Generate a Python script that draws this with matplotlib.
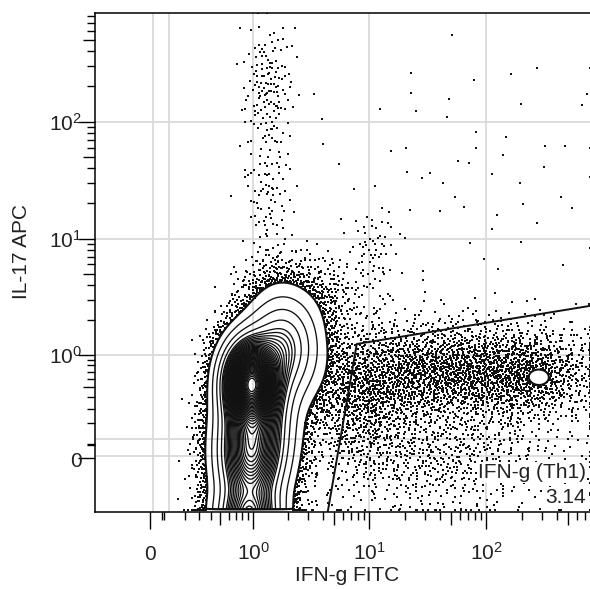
import numpy as np
import matplotlib
matplotlib.use('Agg')
import matplotlib.pyplot as plt
from matplotlib.transforms import offset_copy

plt.rcParams['font.family'] = ['Liberation Sans', 'DejaVu Sans']
plt.rcParams['mathtext.default'] = 'regular'

# biex 类坐标轴 (asinh), 1 个单位 = 1 个十进位
A = 0.267
LN10 = np.log(10)

def fwd(v):
    return np.arcsinh(np.asarray(v, float) / A) / LN10

def inv(t):
    return A * np.sinh(np.asarray(t, float) * LN10)

x_min, x_max = -0.35, 770
y_min, y_max = -0.343, 850

# 主群 (画等高线的那一群): 中心(数据值), 宽度(十进位), 事件数
main_x = [0.95, 0.93, 0.91, 1.8, 1.35]
main_y = [0.56, 0.03, -0.40, 1.15, 0.22]
main_sx = [0.13, 0.15, 0.15, 0.17, 0.15]
main_sy = [0.20, 0.30, 0.15, 0.25, 0.32]
main_n = [26000, 24000, 8000, 9500, 6000]

# 其它细胞群 (散点)
# Th17 竖条上/中/下, ~10 处小团, 主群右肩, 右侧 IFN-g 云(主/右/左/下), 右上稀疏, 右侧热点
pop_x = [1.35, 1.35, 1.5, 11, 4, 48, 237, 8.4, 40, 73, 287]
pop_y = [200, 25, 5, 8, 3, 0.70, 0.66, 0.38, 0.0, 38, 0.62]
pop_sx = [0.11, 0.12, 0.15, 0.10, 0.20, 0.55, 0.30, 0.25, 0.60, 0.70, 0.05]
pop_sy = [0.28, 0.30, 0.15, 0.20, 0.20, 0.22, 0.20, 0.30, 0.25, 0.60, 0.04]
pop_n = [140, 90, 60, 60, 250, 2000, 600, 750, 700, 60, 55]

# 门 (gate) 与标注
gate_x = [4.4, 7.8, 770]
gate_y = [-0.343, 1.24, 2.65]
gate_name = 'IFN-g (Th1)'
gate_pct = '3.14'

x_major = [0, 1, 10, 100]
x_major_labels = ['0', '$10^{0}$', '$10^{1}$', '$10^{2}$']
y_major = [0, 1, 10, 100]
y_major_labels = ['0', '$10^{0}$', '$10^{1}$', '$10^{2}$']
x_grid = [0.015, 0.1, 1, 10, 100]
y_grid = [0.01, 0.1, 1, 10, 100]

comp_x = main_x + pop_x
comp_y = main_y + pop_y
comp_sx = main_sx + pop_sx
comp_sy = main_sy + pop_sy
comp_n = main_n + pop_n


def halton(n, base, start):
    i = np.arange(start, start + n)
    res = np.zeros(n)
    f = 1.0
    while np.any(i > 0):
        f /= base
        res += f * (i % base)
        i = i // base
    return res


def density(tx, ty):
    d = np.zeros_like(tx)
    for cx, cy, sx, sy, n in zip(comp_x, comp_y, comp_sx, comp_sy, comp_n):
        ux, uy = fwd(cx), fwd(cy)
        d += n / (2 * np.pi * sx * sy) * np.exp(-0.5 * (((tx - ux) / sx) ** 2 + ((ty - uy) / sy) ** 2))
    return d


# 每个群的事件位置 (低差异序列 + Box-Muller)
pts_tx, pts_ty = [], []
start = 1
for cx, cy, sx, sy, n in zip(comp_x, comp_y, comp_sx, comp_sy, comp_n):
    u1 = halton(n, 2, start)
    u2 = halton(n, 3, start)
    start += n
    r = np.sqrt(-2 * np.log(u1))
    pts_tx.append(fwd(cx) + sx * r * np.cos(2 * np.pi * u2))
    pts_ty.append(fwd(cy) + sy * r * np.sin(2 * np.pi * u2))
pts_tx = np.concatenate(pts_tx)
pts_ty = np.concatenate(pts_ty)
# 超出范围的事件堆在边上
pts_tx = np.clip(pts_tx, fwd(x_min), fwd(x_max))
pts_ty = np.clip(pts_ty, fwd(y_min) + 0.02, fwd(y_max))

# 等高线网格
gx = np.linspace(fwd(x_min), fwd(x_max), 600)
gy = np.linspace(fwd(y_min), fwd(y_max), 600)
GX, GY = np.meshgrid(gx, gy)
D = density(GX, GY)
D[:4, :] = 0
peak = D.max()
level_out = 3500
levels_in = peak * np.array([0.045, 0.085, 0.13] + list(np.linspace(0.17, 0.97, 42)))

# 外层等高线以外的事件才画点
keep = density(pts_tx, pts_ty) < level_out
dots_x = inv(pts_tx[keep])
dots_y = inv(pts_ty[keep])

fig = plt.figure(figsize=(5.9, 5.89), dpi=100)
ax = fig.add_axes([95 / 590, 77 / 589, 495 / 590, 499 / 589])
ax.set_xscale('function', functions=(fwd, inv))
ax.set_yscale('function', functions=(fwd, inv))
ax.set_xlim(x_min, x_max)
ax.set_ylim(y_min, y_max)

for v in x_grid:
    ax.axvline(v, color='#dadada', lw=1.3, zorder=0)
for v in y_grid:
    ax.axhline(v, color='#dadada', lw=1.3, zorder=0)

ax.scatter(dots_x, dots_y, s=1.5, marker='s', c='#111111', linewidths=0, zorder=2)
ax.contour(inv(GX), inv(GY), D, levels=levels_in, colors='#111111', linewidths=0.95, zorder=3)
ax.contour(inv(GX), inv(GY), D, levels=[level_out], colors='#111111', linewidths=1.5, zorder=3)

ax.plot(gate_x, gate_y, color='#111111', lw=1.4, zorder=4, clip_on=True)

box = dict(facecolor='white', edgecolor='none', pad=0.5)
ax.text(0.992, 0.068, gate_name, transform=ax.transAxes, ha='right', va='baseline',
        fontsize=15, color='#222222', bbox=box, zorder=5)
ax.text(0.992, 0.018, gate_pct, transform=ax.transAxes, ha='right', va='baseline',
        fontsize=15, color='#222222', bbox=box, zorder=5)

# 刻度
minor = [0.065, 0.075, 0.2, 0.3, 0.4, 0.6, 0.7, 0.8, 0.9,
         2, 3, 4, 6, 7, 8, 9, 20, 30, 40, 60, 70, 80, 90,
         200, 300, 400, 600, 700, 800]
medium = [0.5, 5, 50, 500]
for axis, lim in ((ax.xaxis, x_max), (ax.yaxis, y_max)):
    axis.set_ticks([0, 1, 10, 100] + medium)
    axis.set_ticklabels([''] * 8)
    axis.set_ticks([m for m in minor if m < lim], minor=True)
ax.tick_params(which='major', length=12, width=1.0, color='black')
ax.tick_params(which='minor', length=6, width=1.0, color='black')
for t in ax.xaxis.get_major_ticks()[4:] + ax.yaxis.get_major_ticks()[4:]:
    t.tick1line.set_markersize(9)

xt = ax.get_xaxis_transform()
for v, lab in zip(x_major, x_major_labels):
    ax.text(v, -0.096, lab, transform=xt, ha='center', va='baseline', fontsize=15, color='#222222')
yt = offset_copy(ax.get_yaxis_transform(), fig=fig, x=-13, y=-9.5, units='dots')
for v, lab in zip(y_major, y_major_labels):
    ax.text(0, v, lab, transform=yt, ha='right', va='baseline', fontsize=15, color='#222222')

ax.text(0.51, -0.138, 'IFN-g FITC', transform=ax.transAxes, ha='center', va='baseline', fontsize=15, color='#222222')
ax.text(-0.1485, 0.522, 'IL-17 APC', transform=ax.transAxes, ha='center', va='center', rotation=90, fontsize=15, color='#222222')

ax.spines['right'].set_visible(False)
for s in ('left', 'bottom', 'top'):
    ax.spines[s].set_linewidth(1.1)

fig.savefig('out.png', dpi=100)
